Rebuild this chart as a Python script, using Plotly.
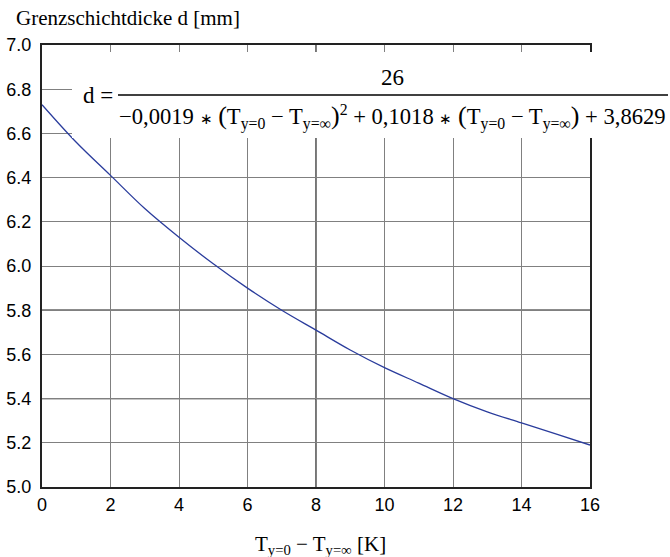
import plotly.graph_objects as go

# Data
delta_t = [0, 1, 2, 3, 4, 5, 6, 7, 8, 9, 10, 11, 12, 13, 14, 15, 16]
thickness = [6.73, 6.56, 6.41, 6.26, 6.13, 6.01, 5.90, 5.80, 5.71, 5.62, 5.54,
             5.47, 5.40, 5.34, 5.29, 5.24, 5.19]
x_ticks = [0, 2, 4, 6, 8, 10, 12, 14, 16]
y_ticks = [5.0, 5.2, 5.4, 5.6, 5.8, 6.0, 6.2, 6.4, 6.6, 6.8, 7.0]
dark_grid_x = [8]
dark_grid_y = [5.4, 5.8]

W, H = 670, 557
L, R, T, B = 42, 80, 45, 70
PW, PH = W - L - R, H - T - B


def px(xp):
    return (xp - L) / PW


def py(yp):
    return (H - B - yp) / PH


SERIF = "Liberation Serif"
SANS = "Liberation Sans, Arial, sans-serif"

fig = go.Figure()
fig.add_trace(go.Scatter(
    x=delta_t, y=thickness, mode="lines",
    line=dict(color="#2a3c9c", width=1.3, shape="spline"),
    showlegend=False, hoverinfo="skip"))

shapes = []
for xv in dark_grid_x:
    shapes.append(dict(type="line", xref="x", yref="paper", x0=xv, x1=xv, y0=0, y1=1,
                       line=dict(color="#1a1a1a", width=1.2), layer="below"))
for yv in dark_grid_y:
    shapes.append(dict(type="line", xref="paper", yref="y", x0=0, x1=1, y0=yv, y1=yv,
                       line=dict(color="#1a1a1a", width=1.2), layer="below"))
# white formula box
shapes.append(dict(type="rect", xref="paper", yref="paper",
                   x0=px(72), x1=px(672), y0=py(138), y1=py(52),
                   fillcolor="white", line=dict(width=0), layer="above"))
# fraction bar
shapes.append(dict(type="line", xref="paper", yref="paper",
                   x0=px(118), x1=px(668), y0=py(95), y1=py(95),
                   line=dict(color="black", width=1.4), layer="above"))

T0 = "T<sub>y=0</sub>"
TI = "T<sub>y=∞</sub>"
BIG = '<span style="font-size:26px">'
AST = '<span style="font-size:15px">∗</span>'
denom = ("−0,0019 " + AST + " " + BIG + "(</span>" + T0 + " − " + TI + BIG + ")</span><sup>2</sup>"
         " + 0,1018 " + AST + " " + BIG + "(</span>" + T0 + " − " + TI + BIG + ")</span> + 3,8629")

annotations = [
    dict(text="Grenzschichtdicke d [mm]", xref="paper", yref="paper",
         x=px(14), y=py(18), xanchor="left", yanchor="middle", showarrow=False,
         font=dict(family=SERIF, size=21, color="black")),
    dict(text=T0 + " − " + TI + " [K]", xref="paper", yref="paper",
         x=px(320), y=py(545), xanchor="center", yanchor="middle", showarrow=False,
         font=dict(family=SERIF, size=21, color="black")),
    dict(text="d =", xref="paper", yref="paper",
         x=px(98), y=py(95), xanchor="center", yanchor="middle", showarrow=False,
         font=dict(family=SERIF, size=23, color="black")),
    dict(text="26", xref="paper", yref="paper",
         x=px(392), y=py(78), xanchor="center", yanchor="middle", showarrow=False,
         font=dict(family=SERIF, size=23, color="black")),
    dict(text=denom, xref="paper", yref="paper",
         x=px(392), y=py(117), xanchor="center", yanchor="middle", showarrow=False,
         font=dict(family=SERIF, size=22.6, color="black")),
]

fig.update_layout(
    width=W, height=H,
    margin=dict(l=L, r=R, t=T, b=B, pad=0, autoexpand=False),
    paper_bgcolor="white", plot_bgcolor="white",
    shapes=shapes, annotations=annotations,
    xaxis=dict(range=[0, 16], tickvals=x_ticks, ticktext=[str(v) for v in x_ticks],
               showgrid=True, gridcolor="#808080", gridwidth=1,
               showline=True, mirror=True, linecolor="#222222", linewidth=2,
               ticks="", ticklabelstandoff=0, zeroline=False, automargin=False,
               tickfont=dict(family=SANS, size=18, color="black")),
    yaxis=dict(range=[5.0, 7.0], tickvals=y_ticks, ticktext=[f"{v:.1f}" for v in y_ticks],
               showgrid=True, gridcolor="#808080", gridwidth=1,
               showline=True, mirror=True, linecolor="#222222", linewidth=2,
               ticks="", ticklabelstandoff=5, zeroline=False, automargin=False,
               tickfont=dict(family=SANS, size=18, color="black")),
)

fig.write_html("out.html")
